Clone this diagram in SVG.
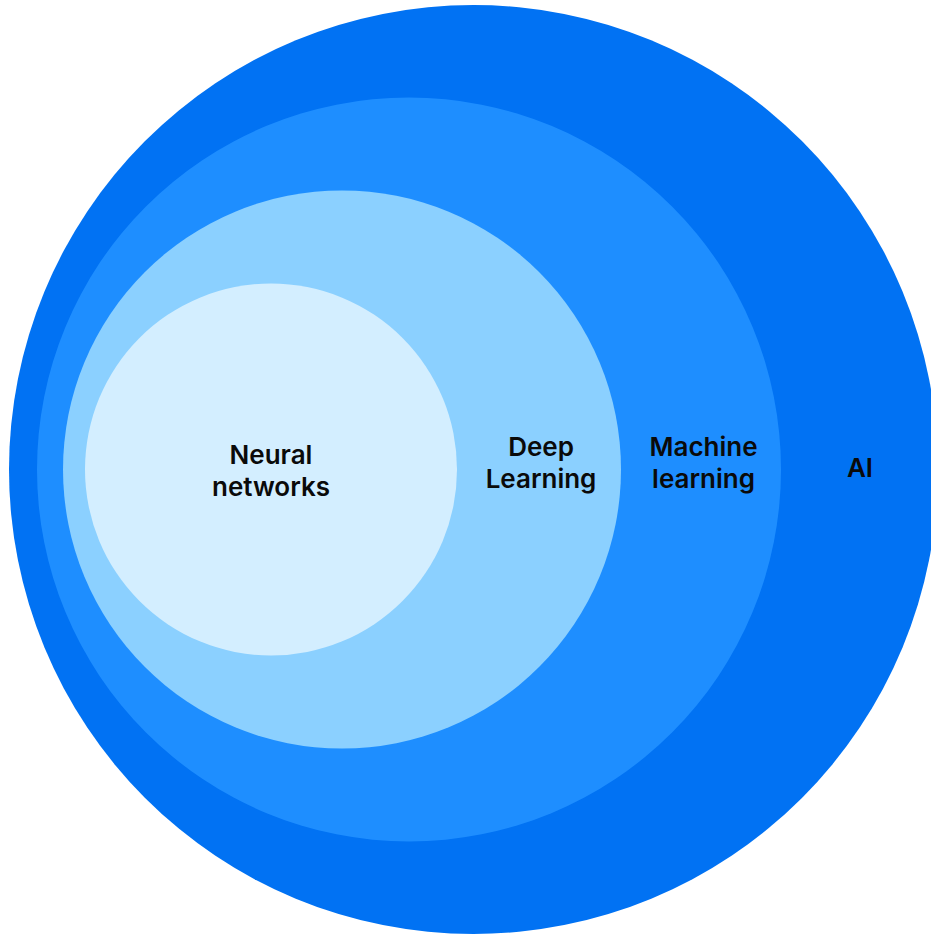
<svg xmlns="http://www.w3.org/2000/svg" width="931" height="934" viewBox="0 0 931 934">
  <style>
    .label { font-family: Inter, "Noto Sans", "Liberation Sans", sans-serif; font-size: 26px; font-weight: 600; fill: #0a0a0a; text-anchor: middle; }
    .ai { fill: #0172F3; }
    .ml { fill: #1E8EFF; }
    .dl { fill: #8BD0FF; }
    .nn { fill: #D3EEFF; }
  </style>
  <rect width="931" height="934" fill="#ffffff"/>
  <!-- Nested sets, outermost first -->
  <g id="ai">
    <circle class="ai" cx="473.5" cy="469.5" r="464.5"/>
    <text class="label" x="860" y="477">AI</text>
  </g>
  <g id="machine-learning">
    <circle class="ml" cx="409" cy="469.5" r="372"/>
    <text class="label" x="703.5" y="456">Machine</text>
    <text class="label" x="703.5" y="488">learning</text>
  </g>
  <g id="deep-learning">
    <circle class="dl" cx="342" cy="469.5" r="279"/>
    <text class="label" x="541" y="456">Deep</text>
    <text class="label" x="541" y="488">Learning</text>
  </g>
  <g id="neural-networks">
    <circle class="nn" cx="271" cy="469.5" r="186"/>
    <text class="label" x="271" y="464">Neural</text>
    <text class="label" x="271" y="496">networks</text>
  </g>
  <g id="connectors"></g>
</svg>
